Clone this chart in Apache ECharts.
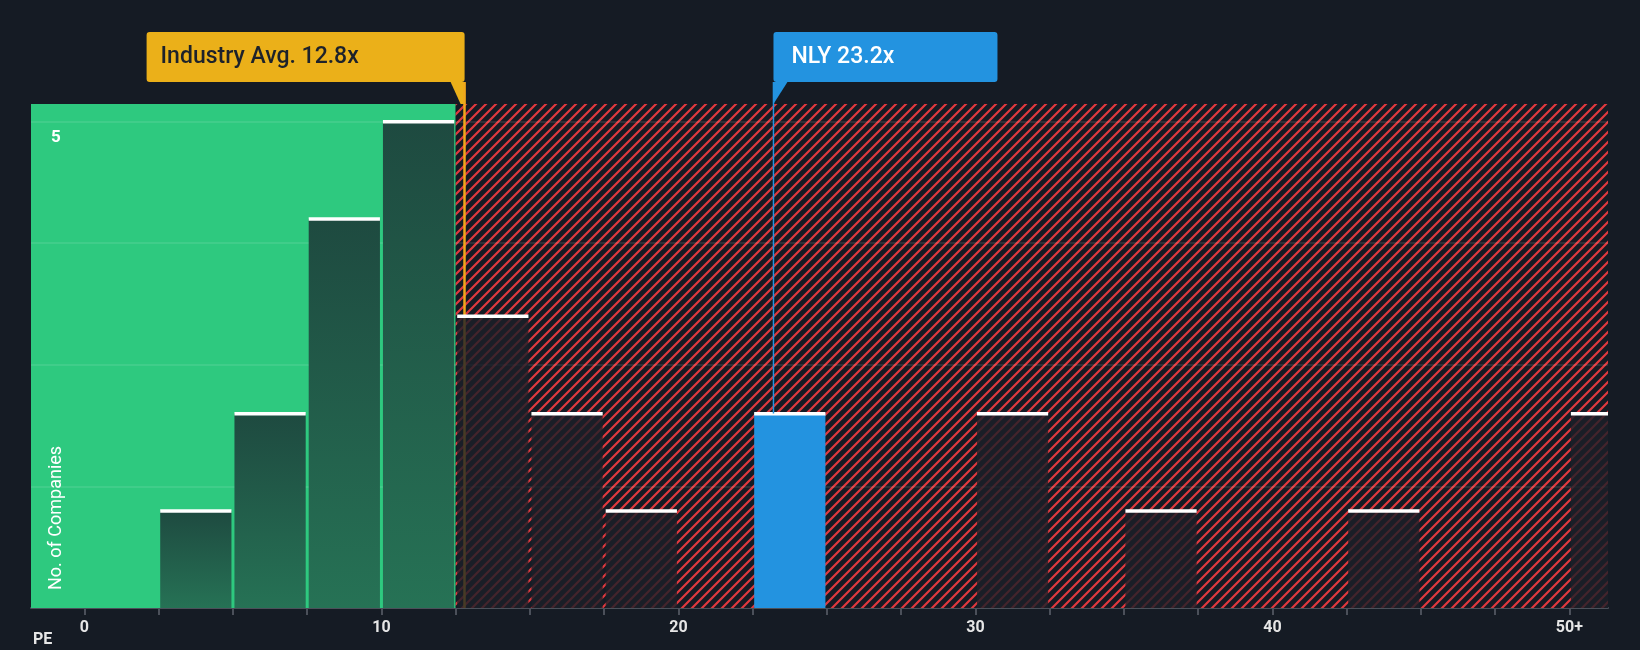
<!DOCTYPE html>
<html>
<head>
<meta charset="utf-8">
<script src="https://cdn.jsdelivr.net/npm/echarts@6/dist/echarts.min.js"></script>
<style>
  html, body { margin: 0; padding: 0; background: #151b24; }
  #container { width: 1640px; height: 650px; }
</style>
</head>
<body>
<div id="container"></div>
<script>
// histogram bins (PE from, to) and number of companies
var binFrom = [2.5, 5, 7.5, 10, 12.5, 15, 17.5, 22.5, 30, 35, 42.5, 50];
var binTo   = [5, 7.5, 10, 12.5, 15, 17.5, 20, 25, 32.5, 37.5, 45, 52.5];
var counts  = [1, 2, 4, 5, 3, 2, 1, 2, 2, 1, 1, 2];
var tickValues = [0, 2.5, 5, 7.5, 10, 12.5, 15, 17.5, 20, 22.5, 25, 27.5, 30, 32.5, 35, 37.5, 40, 42.5, 45, 47.5, 50];
var labelValues = [0, 10, 20, 30, 40, 50];
var gridValues = [1.25, 2.5, 3.75, 5];
var yLabelValue = 5;
var industryAvg = 12.8;
var companyPE = 23.2;
var companyName = 'NLY';

var xMin = -1.8, xMax = 51.3, yMax = 5.18;

function hatchPattern() {
    var c = document.createElement('canvas');
    c.width = 10; c.height = 10;
    var ctx = c.getContext('2d');
    ctx.fillStyle = '#151b24';
    ctx.fillRect(0, 0, 10, 10);
    ctx.strokeStyle = '#e0393e';
    ctx.lineWidth = 2.2;
    ctx.beginPath();
    ctx.moveTo(-2, 12); ctx.lineTo(12, -2);
    ctx.moveTo(-7, 7); ctx.lineTo(7, -7);
    ctx.moveTo(3, 17); ctx.lineTo(17, 3);
    ctx.stroke();
    return c;
}

var dom = document.getElementById('container');
var myChart = echarts.init(dom, null, { renderer: 'canvas' });

var barData = [];
for (var i = 0; i < counts.length; i++) {
    barData.push([binFrom[i], binTo[i], counts[i]]);
}

var option = {
    backgroundColor: '#151b24',
    animation: false,
    grid: { left: 31, right: 32, top: 104, bottom: 42 },
    xAxis: {
        type: 'value', min: xMin, max: xMax,
        splitLine: { show: false },
        axisLine: { show: true, onZero: false, lineStyle: { color: '#4b505a', width: 2 } },
        axisTick: { show: true, customValues: tickValues, length: 7, lineStyle: { color: '#4b505a', width: 2 } },
        axisLabel: {
            customValues: labelValues, color: '#e6e6e6', fontSize: 16, fontWeight: 'bold',
            fontFamily: 'Roboto', margin: 12,
            formatter: function (v) { return v === 50 ? '50+' : String(v); }
        }
    },
    yAxis: {
        type: 'value', min: 0, max: yMax, interval: 1.25,
        splitLine: { show: false },
        axisLine: { show: false }, axisTick: { show: false },
        axisLabel: { show: false }
    },
    series: [
        {
            type: 'line', data: [], z: 0,
            markArea: {
                silent: true,
                data: [
                    [{ xAxis: xMin, yAxis: 0, itemStyle: { color: '#2ec97f' } }, { xAxis: 12.5, yAxis: yMax }],
                    [{ xAxis: 12.5, yAxis: 0, itemStyle: { color: { image: hatchPattern(), repeat: 'repeat' } } }, { xAxis: xMax, yAxis: yMax }]
                ]
            },
            markLine: {
                silent: true, symbol: 'none', label: { show: false },
                lineStyle: { color: 'rgba(255,255,255,0.12)', type: 'solid', width: 1.5 },
                data: gridValues.map(function (v) { return { yAxis: v }; })
            }
        },
        {
            type: 'line', data: [], z: 1,
            markLine: {
                silent: true, symbol: 'none', label: { show: false },
                data: [
                    [{ coord: [industryAvg, 0], lineStyle: { color: '#f0a81c', width: 2.5, type: 'solid' } },
                     { coord: [industryAvg, yMax] }]
                ]
            }
        },
        {
            type: 'custom', z: 5, clip: true,
            data: barData,
            renderItem: function (params, api) {
                var a = api.coord([api.value(0), api.value(2)]);
                var b = api.coord([api.value(1), 0]);
                var x0 = a[0] + 1.5, w = b[0] - a[0] - 3, top = a[1], h = b[1] - a[1];
                var right = params.coordSys.x + params.coordSys.width;
                if (x0 + w > right) w = right - x0;
                var from = api.value(0);
                var fill;
                if (from < 12.5) {
                    fill = new echarts.graphic.LinearGradient(0, 0, 0, 1, [
                        { offset: 0, color: '#1e4a40' }, { offset: 1, color: '#267255' }
                    ]);
                } else if (companyPE >= from && companyPE < api.value(1)) {
                    fill = '#2393e0';
                } else {
                    fill = 'rgba(28,31,40,0.8)';
                }
                return {
                    type: 'group',
                    children: [
                        { type: 'rect', shape: { x: x0, y: top, width: w, height: h }, style: { fill: fill } },
                        { type: 'rect', shape: { x: x0, y: top - 1.5, width: w, height: 3.5 }, style: { fill: '#ffffff' } }
                    ]
                };
            }
        }
    ]
};

myChart.setOption(option);

// callouts positioned from the axis scale
var ia = myChart.convertToPixel({ gridIndex: 0 }, [industryAvg, 0]);
var np = myChart.convertToPixel({ gridIndex: 0 }, [companyPE, 2]);
var y5 = myChart.convertToPixel({ gridIndex: 0 }, [0, yLabelValue])[1];
var topY = myChart.convertToPixel({ gridIndex: 0 }, [0, yMax])[1];
var boxTop = 32, boxH = 50;
myChart.setOption({
    graphic: [
        {
            type: 'rect', z: 100, shape: { x: ia[0] - 318, y: boxTop, width: 318, height: boxH, r: 3 },
            style: { fill: '#ebb019' }
        },
        {
            type: 'polygon', z: 100, shape: { points: [[ia[0] - 14, boxTop + boxH], [ia[0], boxTop + boxH], [ia[0], topY], [ia[0] - 4, topY]] },
            style: { fill: '#ebb019' }
        },
        {
            type: 'rect', z: 100, shape: { x: ia[0] - 1.25, y: boxTop + boxH, width: 2.5, height: topY - boxTop - boxH },
            style: { fill: '#f0a81c' }
        },
        {
            type: 'text', z: 101, x: ia[0] - 304, y: boxTop + boxH / 2,
            style: { text: 'Industry Avg. 12.8x', fill: '#1d222b', font: '500 23px Roboto', verticalAlign: 'middle' }
        },
        {
            type: 'rect', z: 100, shape: { x: np[0], y: boxTop, width: 224, height: boxH, r: 3 },
            style: { fill: '#2393e0' }
        },
        {
            type: 'polygon', z: 100, shape: { points: [[np[0], boxTop + boxH], [np[0] + 14, boxTop + boxH], [np[0], boxTop + boxH + 22]] },
            style: { fill: '#2393e0' }
        },
        {
            type: 'rect', z: 100, shape: { x: np[0] - 0.75, y: boxTop + boxH, width: 1.5, height: np[1] - boxTop - boxH },
            style: { fill: '#2393e0' }
        },
        {
            type: 'text', z: 101, x: np[0] + 18, y: boxTop + boxH / 2,
            style: { text: companyName + ' ' + companyPE + 'x', fill: '#ffffff', font: '500 23px Roboto', verticalAlign: 'middle' }
        },
        {
            type: 'text', z: 101, x: 51, y: y5 + 8,
            style: { text: String(yLabelValue), fill: '#ffffff', font: 'bold 17px Roboto', verticalAlign: 'top' }
        },
        {
            type: 'text', z: 101, x: 33, y: 640,
            style: { text: 'PE', fill: '#e6e6e6', font: 'bold 16px Roboto', verticalAlign: 'middle' }
        },
        {
            type: 'text', z: 101, x: 56, y: 590, rotation: Math.PI / 2,
            style: { text: 'No. of Companies', fill: '#ffffff', font: '18px Roboto', verticalAlign: 'middle' }
        }
    ]
});

window.addEventListener('resize', myChart.resize);
</script>
</body>
</html>
